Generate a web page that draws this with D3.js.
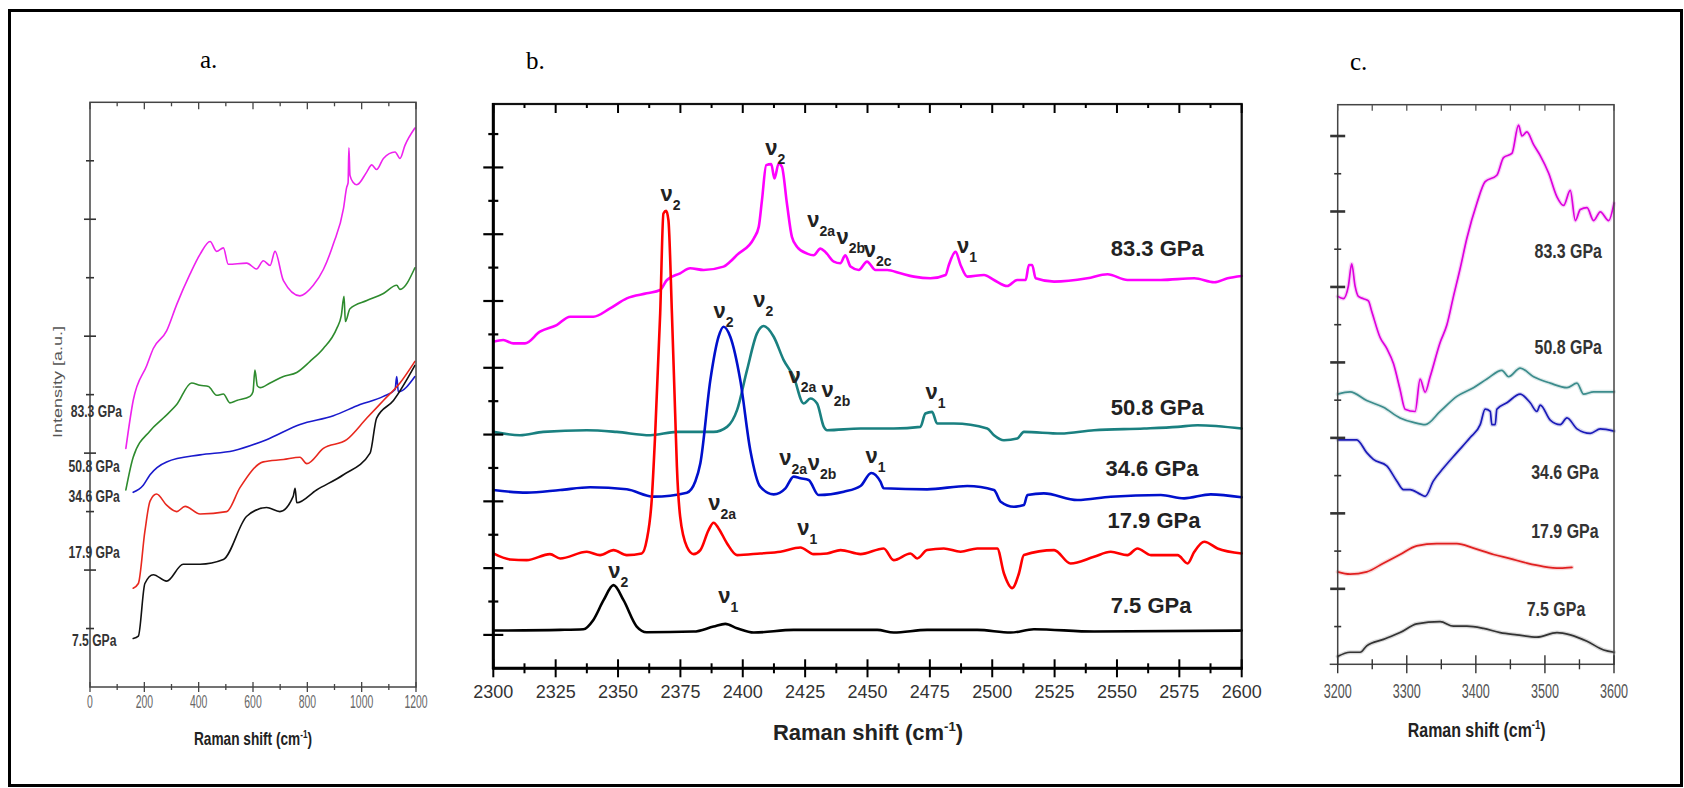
<!DOCTYPE html>
<meta charset="UTF-8">
<style>
  body { margin: 0; background: #fff; }
  svg { display: block; }
  .curve { fill: none; stroke-linejoin: round; stroke-linecap: round; }
</style>
<body>
<script src="https://d3js.org/d3.v7.min.js"></script>
<script>

// pressures, top trace first
var pressures = ["83.3 GPa", "50.8 GPa", "34.6 GPa", "17.9 GPa", "7.5 GPa"];

// ---- panel a : 0 - 1200 cm-1 ----
var aMagenta = [[132,4.08],[159,4.90],[209,5.50],[233,5.79],[282,6.09],[319,6.54],[368,7.06],[405,7.40],[442,7.62],[466,7.45],[491,7.51],[509,7.23],[577,7.25],[613,7.15],[638,7.29],[663,7.21],[681,7.45],[712,6.95],[773,6.69],[822,6.87],[859,7.14],[896,7.58],[933,8.18],[945,8.55],[950,8.62],[953,9.22],[957,8.75],[969,8.63],[982,8.59],[1019,8.81],[1037,8.93],[1055,8.85],[1080,9.04],[1123,9.15],[1141,9.04],[1159,9.26],[1196,9.56]];
var aGreen = [[132,3.37],[159,3.93],[221,4.38],[270,4.60],[319,4.83],[374,5.20],[405,5.16],[436,5.14],[466,4.99],[491,5.01],[515,4.86],[540,4.90],[589,4.97],[600,5.05],[607,5.42],[616,5.15],[626,5.12],[663,5.20],[712,5.31],[761,5.38],[810,5.57],[859,5.79],[908,6.13],[925,6.35],[935,6.68],[940,6.25],[957,6.47],[1019,6.61],[1080,6.73],[1129,6.87],[1141,6.80],[1196,7.17]];
var aBlue = [[159,3.33],[196,3.45],[221,3.63],[282,3.85],[405,3.97],[528,4.04],[650,4.23],[773,4.49],[896,4.64],[994,4.83],[1080,4.97],[1123,5.09],[1129,5.31],[1135,5.05],[1196,5.31]];
var aRed = [[159,1.69],[178,1.77],[202,2.66],[221,3.18],[245,3.30],[282,3.11],[319,3.00],[350,3.09],[405,2.96],[503,3.00],[552,3.41],[638,3.85],[712,3.89],[773,3.93],[798,3.82],[859,4.08],[945,4.23],[1019,4.60],[1080,4.90],[1141,5.20],[1196,5.57]];
var aBlack = [[159,0.83],[178,0.87],[202,1.77],[233,1.92],[282,1.81],[343,2.10],[405,2.10],[491,2.18],[577,2.92],[650,3.07],[699,3.00],[748,3.26],[755,3.40],[761,3.15],[834,3.37],[933,3.63],[1031,4.00],[1055,4.60],[1117,4.90],[1196,5.50]];
var aTickLabels = [0, 200, 400, 600, 800, 1000, 1200];

// ---- panel b : 2300 - 2600 cm-1 ----
var bMagenta = [[2300,9.78],[2304,9.83],[2308,9.73],[2312.7,9.73],[2318.7,10.08],[2325.4,10.28],[2330.8,10.53],[2340.1,10.53],[2346.8,10.78],[2353.5,11.08],[2361.5,11.23],[2366.9,11.33],[2369.6,11.63],[2374.9,11.83],[2378.9,11.98],[2384.3,11.93],[2392.3,12.03],[2395,12.18],[2397.7,12.38],[2404.4,12.87],[2406.4,13.22],[2407.7,14.02],[2409.4,15.07],[2411.4,15.10],[2412.7,14.67],[2414.4,15.12],[2415.7,15.02],[2417.7,13.92],[2419.7,12.92],[2421.8,12.62],[2425.8,12.42],[2428.4,12.37],[2431.1,12.57],[2433.1,12.47],[2436.5,12.18],[2439.1,12.13],[2441.1,12.37],[2443.2,12.03],[2446.5,11.93],[2449.8,12.18],[2453.2,11.93],[2457.9,11.93],[2463.2,11.83],[2468.6,11.73],[2475.2,11.68],[2481.3,11.78],[2482.6,12.08],[2485.3,12.47],[2487.3,12.08],[2490,11.73],[2496.7,11.78],[2500.7,11.63],[2506,11.45],[2510,11.63],[2513.4,11.63],[2514.7,12.08],[2516,12.08],[2517.4,11.68],[2524.8,11.58],[2538.1,11.68],[2546.2,11.80],[2554.2,11.63],[2567.6,11.63],[2581,11.68],[2589,11.56],[2594.3,11.68],[2600,11.75]];
var bTeal = [[2300,7.08],[2310.7,6.98],[2320,7.08],[2337.5,7.13],[2349.5,7.08],[2362.9,6.98],[2373.6,7.08],[2388.3,7.08],[2393.7,7.23],[2397.7,7.73],[2401.7,8.93],[2405.7,10.03],[2408.4,10.25],[2412.4,9.93],[2416.4,9.23],[2420.4,8.73],[2424.4,7.93],[2427.1,8.08],[2429.8,7.93],[2432.5,7.23],[2433.8,7.13],[2447.2,7.18],[2460.5,7.18],[2471.2,7.23],[2473.2,7.63],[2475.9,7.68],[2477.9,7.33],[2484.6,7.33],[2498,7.18],[2500.7,6.98],[2504.7,6.83],[2510,6.88],[2512.7,7.08],[2527.4,7.03],[2540.8,7.13],[2560.9,7.18],[2574.3,7.23],[2582.3,7.28],[2600,7.18]];
var bBlue = [[2300,5.34],[2313.4,5.26],[2326.8,5.34],[2338.8,5.42],[2353.5,5.36],[2364.2,5.14],[2377.6,5.26],[2381,5.6],[2383,6.14],[2387,8.63],[2390.3,9.93],[2392.3,10.23],[2395,9.93],[2399,8.63],[2403,6.54],[2407,5.44],[2412.4,5.21],[2417.1,5.39],[2420.4,5.74],[2423.1,5.69],[2426.4,5.64],[2430.4,5.19],[2440.5,5.29],[2447.2,5.46],[2451.5,5.85],[2455.2,5.59],[2456.5,5.39],[2473.9,5.36],[2490,5.46],[2500.7,5.34],[2503.4,4.99],[2508.7,4.84],[2512.7,4.89],[2514.1,5.19],[2520.7,5.24],[2534.1,5.04],[2547.5,5.14],[2567.6,5.19],[2576.9,5.09],[2587.6,5.21],[2600,5.12]];
var bRed = [[2300,3.44],[2306.7,3.26],[2313.4,3.24],[2322.7,3.42],[2326.8,3.29],[2337.5,3.49],[2342.8,3.39],[2348.2,3.54],[2353.5,3.39],[2359.5,3.44],[2361.5,3.84],[2363.5,5.04],[2364.9,7.04],[2366.9,10.63],[2368.2,13.62],[2369.3,13.70],[2370.2,13.42],[2371.6,10.63],[2372.9,7.63],[2373.6,6.04],[2374.9,4.54],[2377.6,3.64],[2380.3,3.42],[2383,3.54],[2386.3,4.14],[2388.3,4.36],[2390.3,4.19],[2393.7,3.74],[2397.7,3.39],[2407,3.44],[2415.1,3.49],[2423.1,3.62],[2428.4,3.42],[2433.8,3.44],[2439.2,3.54],[2447.2,3.42],[2456.5,3.59],[2460.5,3.24],[2467.2,3.44],[2469.9,3.29],[2473.9,3.54],[2480.6,3.59],[2487.3,3.49],[2494,3.59],[2502,3.59],[2504.7,2.84],[2508,2.40],[2510.7,2.84],[2512.7,3.39],[2524.8,3.54],[2531.4,3.14],[2540.8,3.34],[2547.5,3.49],[2554.2,3.39],[2558.2,3.59],[2563.6,3.39],[2574.3,3.39],[2578.3,3.14],[2581,3.49],[2585,3.79],[2590.3,3.59],[2600,3.44]];
var bBlack = [[2300,1.13],[2326.8,1.15],[2336.1,1.17],[2340.1,1.45],[2344.2,2.04],[2348.2,2.49],[2352.2,2.04],[2357.5,1.25],[2361.5,1.08],[2380.3,1.10],[2388.3,1.25],[2393,1.33],[2397.7,1.20],[2404.4,1.07],[2420.4,1.15],[2453.9,1.15],[2460.5,1.07],[2473.9,1.15],[2494,1.15],[2507.4,1.07],[2516.7,1.17],[2540.8,1.10],[2600,1.13]];
var bTickLabels = [2300, 2325, 2350, 2375, 2400, 2425, 2450, 2475, 2500, 2525, 2550, 2575, 2600];

// peak names in panel b: [subscript, x, intensity]
var bPeaks = [["2",2367,14.0],["2",2409,15.37],["2a",2425.8,13.22],["2b",2437.6,12.72],["2c",2448.5,12.32],["1",2485.9,12.43],
              ["2",2388.3,10.48],["2",2404.2,10.83],["2a",2418.3,8.53],["2b",2431.6,8.13],["1",2473.2,8.08],
              ["2a",2414.6,6.09],["2b",2426,5.94],["1",2449.2,6.14],["2a",2386.2,4.74],["1",2421.8,3.99],
              ["2",2346.1,2.69],["1",2390.2,1.95]];

// ---- panel c : 3200 - 3600 cm-1 ----
var cMagenta = [[3200,9.75],[3208.2,9.69],[3215.5,10.03],[3220.3,10.61],[3225.1,10.03],[3230,9.75],[3237.2,9.69],[3244.4,9.63],[3249.3,9.35],[3261.4,8.66],[3271,8.37],[3280.7,7.97],[3290.3,7.28],[3297.6,6.76],[3312.1,6.70],[3319.3,7.56],[3326.6,7.21],[3333.8,7.62],[3348.3,8.53],[3358,8.99],[3367.6,9.75],[3377.3,10.49],[3387,11.29],[3401.5,12.22],[3413.5,12.79],[3430.4,12.96],[3440.1,13.43],[3452.2,13.54],[3461.8,14.29],[3466.7,14.00],[3473.9,14.11],[3483.6,13.77],[3493.2,13.48],[3505.3,13.02],[3517.4,12.39],[3527,12.16],[3536.7,12.56],[3544,11.76],[3551.2,12.05],[3560.9,12.10],[3570.5,11.76],[3580.2,11.99],[3592.3,11.76],[3600,12.22]];
var cTeal = [[3200,7.16],[3217.9,7.22],[3242,6.99],[3266.2,6.81],[3290.3,6.53],[3309.7,6.41],[3326.6,6.35],[3348.3,6.70],[3372.5,7.10],[3396.6,7.33],[3416,7.56],[3437.7,7.79],[3447.4,7.62],[3464.2,7.85],[3483.6,7.62],[3507.7,7.45],[3531.9,7.33],[3546.4,7.45],[3556,7.16],[3570.5,7.22],[3600,7.22]];
var cBlue = [[3200,5.95],[3227.5,5.95],[3242,5.61],[3251.7,5.43],[3271,5.26],[3285.5,4.86],[3295.2,4.63],[3304.8,4.63],[3319.3,4.51],[3326.6,4.45],[3338.6,4.86],[3353.1,5.20],[3372.5,5.61],[3391.8,6.01],[3406.3,6.35],[3413.5,6.76],[3420.8,6.70],[3423.2,6.35],[3428,6.35],[3430.4,6.76],[3444.9,6.93],[3464.2,7.16],[3478.7,6.93],[3488.4,6.70],[3493.2,6.87],[3507.7,6.47],[3522.2,6.35],[3531.9,6.53],[3546.4,6.24],[3565.7,6.12],[3580.2,6.24],[3600,6.18]];
var cRed = [[3200,2.45],[3217.9,2.39],[3242,2.45],[3266.2,2.68],[3290.3,2.91],[3314.4,3.14],[3343.4,3.20],[3372.5,3.20],[3396.6,3.08],[3425.6,2.91],[3449.7,2.80],[3473.9,2.68],[3498.1,2.59],[3522.2,2.55],[3539.1,2.57]];
var cBlack = [[3200,0.21],[3217.9,0.32],[3232.4,0.32],[3242,0.49],[3266.2,0.66],[3290.3,0.84],[3314.4,1.07],[3348.3,1.13],[3367.6,1.01],[3387,1.01],[3411.1,0.95],[3435.2,0.84],[3459.4,0.78],[3488.4,0.72],[3517.4,0.84],[3536.7,0.78],[3560.9,0.61],[3585.1,0.38],[3600,0.32]];
var cTickLabels = [3200, 3300, 3400, 3500, 3600];

// where the pressure names sit, in each panel's own units
var aNamePos = [[118,4.62],[110,3.67],[110,3.16],[110,2.20],[97.5,0.70]];
var bNamePos = [[2547.5,12.34],[2547.5,7.59],[2545.4,5.75],[2546.2,4.20],[2547.5,1.66]];
var cNamePos = [[3582.6,10.76],[3582.6,8.23],[3577.7,4.90],[3577.7,3.34],[3558.4,1.29]];

var svg = d3.select("body").append("svg")
    .attr("width", 1684)
    .attr("height", 788);

// outer frame
svg.append("rect")
    .attr("x", 9.5).attr("y", 10.5)
    .attr("width", 1672).attr("height", 775)
    .attr("fill", "none")
    .attr("stroke", "#000")
    .attr("stroke-width", 3);

// scales
var aX = d3.scaleLinear().domain([0, 1200]).range([90, 416]);
var aY = d3.scaleLinear().domain([0, 10]).range([687, 102.3]);
var bX = d3.scaleLinear().domain([2300, 2600]).range([493.3, 1241.7]);
var bY = d3.scaleLinear().domain([0, 16.9]).range([668.3, 104]);
var cX = d3.scaleLinear().domain([3200, 3600]).range([1337.7, 1614]);
var cY = d3.scaleLinear().domain([0, 14.83]).range([664.3, 104.7]);

// text squeezed sideways (panels a and c are narrowed scans)
function squeezed(g, x, y, str, size, sx, anchor, weight, fill) {
  return g.append("text")
      .attr("transform", "translate(" + x + "," + y + ") scale(" + sx + ",1)")
      .attr("text-anchor", anchor)
      .style("font-family", "'Liberation Sans', Arial, sans-serif")
      .style("font-size", size + "px")
      .style("font-weight", weight)
      .style("fill", fill)
      .text(str);
}

function seg(g, x1, y1, x2, y2, color, w) {
  g.append("line")
      .attr("x1", x1).attr("y1", y1).attr("x2", x2).attr("y2", y2)
      .attr("stroke", color).attr("stroke-width", w);
}

function frame(g, x, y, color, w) {
  var x0 = x.range()[0], x1 = x.range()[1], y0 = y.range()[0], y1 = y.range()[1];
  g.append("rect")
      .attr("x", x0).attr("y", y1)
      .attr("width", x1 - x0).attr("height", y0 - y1)
      .attr("fill", "none").attr("stroke", color).attr("stroke-width", w);
}

function curves(g, x, y, series, colors, width, halo) {
  var line = d3.line()
      .x(function(d) { return x(d[0]); })
      .y(function(d) { return y(d[1]); })
      .curve(d3.curveMonotoneX);
  series.forEach(function(s, i) {
    if (halo) {
      g.append("path").attr("class", "curve").attr("d", line(s))
          .attr("stroke", colors[i]).attr("stroke-width", width + 2.5).attr("opacity", 0.18);
    }
    g.append("path").attr("class", "curve").attr("d", line(s))
        .attr("stroke", colors[i]).attr("stroke-width", width);
  });
}

function title(g, x, y, size, sx) {
  var t = g.append("text")
      .attr("transform", "translate(" + x + "," + y + ") scale(" + sx + ",1)")
      .attr("text-anchor", "middle")
      .style("font-family", "'Liberation Sans', Arial, sans-serif")
      .style("font-size", size + "px")
      .style("font-weight", "bold")
      .style("fill", "#222");
  t.append("tspan").text("Raman shift (cm");
  t.append("tspan").attr("dy", -size * 0.4).style("font-size", (size * 0.6) + "px").text("-1");
  t.append("tspan").attr("dy", size * 0.4).text(")");
}

// panel letters
[["a.", 200, 68], ["b.", 526, 69], ["c.", 1350, 70]].forEach(function(p) {
  svg.append("text").attr("x", p[1]).attr("y", p[2])
      .style("font-family", "'Liberation Serif', 'Times New Roman', serif")
      .style("font-size", "25px")
      .text(p[0]);
});

// ****************** panel a ******************
var ga = svg.append("g");
curves(ga, aX, aY, [aMagenta, aGreen, aBlue, aRed, aBlack],
       ["#ee22ee", "#2e8b2e", "#1a1acc", "#e8281e", "#111"], 1.6, false);
frame(ga, aX, aY, "#444", 1.5);
d3.range(1, 10).forEach(function(v) {
  var big = v % 2 === 0;
  seg(ga, aX(0) - (big ? 6 : 4), aY(v), aX(0) + (big ? 6 : 4), aY(v), "#333", 1.6);
});
d3.range(0, 1201, 100).forEach(function(v) {
  var big = v % 200 === 0;
  seg(ga, aX(v), aY(0) - (big ? 5 : 3), aX(v), aY(0) + (big ? 5 : 3), "#444", 1.3);
  seg(ga, aX(v), aY(10), aX(v), aY(10) + (big ? 7 : 4), "#444", 1.3);
});
aTickLabels.forEach(function(v) {
  squeezed(ga, aX(v), 708, v, 18, 0.58, "middle", "normal", "#666");
});
title(ga, 253, 745, 18, 0.76);
ga.append("text")
    .attr("transform", "translate(62,382) rotate(-90) scale(1,0.76)")
    .attr("text-anchor", "middle")
    .style("font-family", "'Liberation Sans', Arial, sans-serif")
    .style("font-size", "18px")
    .style("fill", "#555")
    .text("Intensity [a.u.]");
pressures.forEach(function(p, i) {
  squeezed(ga, aX(aNamePos[i][0]), aY(aNamePos[i][1]), p, 16, 0.76, "end", "bold", "#333");
});

// ****************** panel b ******************
var gb = svg.append("g");
curves(gb, bX, bY, [bMagenta, bTeal, bBlue, bRed, bBlack],
       ["#ff00ff", "#1a8080", "#0010cc", "#ff0000", "#000"], 2.6, false);
frame(gb, bX, bY, "#111", 2.2);
seg(gb, bX(2300), bY(0) + 1, bX(2300), bY(16.9) - 1, "#000", 3);
seg(gb, bX(2300) - 1, bY(0), bX(2600) + 1, bY(0), "#000", 3);
d3.range(1, 17).forEach(function(v) {
  var big = v % 2 === 1;
  seg(gb, bX(2300) - (big ? 10 : 5), bY(v), bX(2300) + (big ? 10 : 5), bY(v), "#000", 2.2);
});
d3.range(2300, 2601, 12.5).forEach(function(v) {
  var big = (v - 2300) % 25 === 0;
  seg(gb, bX(v), bY(0) - (big ? 9 : 5), bX(v), bY(0) + (big ? 9 : 5), "#000", 2);
  seg(gb, bX(v), bY(16.9), bX(v), bY(16.9) + (big ? 9 : 4), "#000", 2);
});
bTickLabels.forEach(function(v) {
  gb.append("text").attr("x", bX(v)).attr("y", 698)
      .attr("text-anchor", "middle")
      .style("font-family", "'Liberation Sans', Arial, sans-serif")
      .style("font-size", "18px")
      .style("fill", "#333")
      .text(v);
});
title(gb, 868, 740, 22, 1);
pressures.forEach(function(p, i) {
  squeezed(gb, bX(bNamePos[i][0]), bY(bNamePos[i][1]), p, 22, 1, "start", "bold", "#222");
});
bPeaks.forEach(function(p) {
  var t = gb.append("text")
      .attr("x", bX(p[1])).attr("y", bY(p[2]))
      .style("font-family", "'Liberation Sans', Arial, sans-serif")
      .style("font-weight", "bold")
      .style("fill", "#222");
  t.append("tspan").style("font-size", "22px").text("\u03bd");
  t.append("tspan").attr("dy", 9).style("font-size", "14px").text(p[0]);
});

// ****************** panel c ******************
var gc = svg.append("g");
curves(gc, cX, cY, [cMagenta, cTeal, cBlue, cRed, cBlack],
       ["#dd00dd", "#3c8c8c", "#1a1ab8", "#e02020", "#333"], 1.7, true);
frame(gc, cX, cY, "#444", 1.5);
seg(gc, cX(3200) - 8, cY(0), cX(3200), cY(0), "#444", 1.5);
d3.range(1, 15).forEach(function(v) {
  var big = v % 2 === 0;
  seg(gc, cX(3200) - (big ? 7.5 : 3.5), cY(v), cX(3200) + (big ? 7.5 : 3.5), cY(v), "#333", big ? 2.6 : 1.6);
});
d3.range(3200, 3601, 50).forEach(function(v) {
  var big = v % 100 === 0;
  seg(gc, cX(v), cY(0) - (big ? 9 : 5), cX(v), cY(0) + (big ? 9 : 5), "#333", 1.4);
  seg(gc, cX(v), cY(14.83), cX(v), cY(14.83) + 6, "#555", 1.3);
});
cTickLabels.forEach(function(v) {
  squeezed(gc, cX(v), 697.5, v, 21, 0.6, "middle", "normal", "#555");
});
title(gc, 1476.7, 737, 21, 0.76);
pressures.forEach(function(p, i) {
  squeezed(gc, cX(cNamePos[i][0]), cY(cNamePos[i][1]), p, 21, 0.76, "end", "bold", "#333");
});

</script>
</body>
